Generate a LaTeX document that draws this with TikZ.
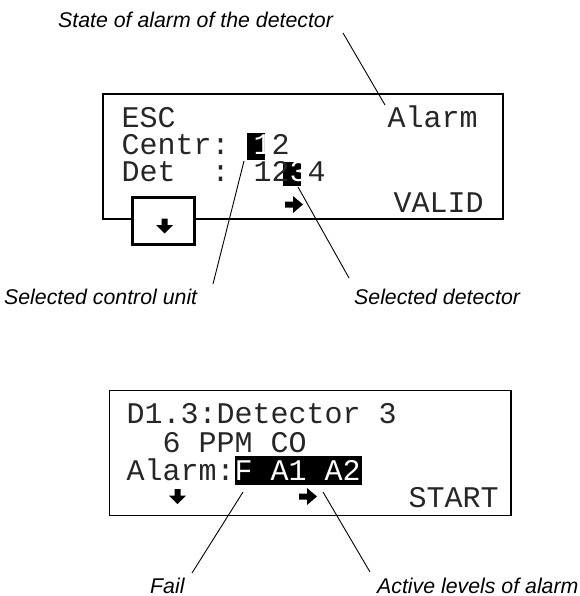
\documentclass[tikz,border=0pt]{standalone}
\usepackage{fontspec}
\setmainfont{Liberation Sans}
\newfontfamily\lcdfont{Liberation Mono}
\tikzset{
  lcdbox/.style={draw=black, line width=1.6pt},
  keybox/.style={draw=black, line width=3.2pt, fill=white},
  lcd/.style={inner sep=0pt, anchor=base west, text=black!85, font=\lcdfont\fontsize{30}{30}\selectfont},
  lbl/.style={inner sep=0pt, anchor=base west, font=\itshape\fontsize{21.3}{25}\selectfont},
  leader/.style={draw=black, line width=0.9pt},
  hl/.style={fill=black},
  rarrow/.pic={\fill[black] (0,-3) -- (8,-3) -- (8,-8.5) -- (18,0) -- (8,8.5) -- (8,3) -- (0,3) -- cycle;},
  darrow/.pic={\fill[black] (-3,0) -- (-3,6.5) -- (-8.5,6.5) -- (0,15) -- (8.5,6.5) -- (3,6.5) -- (3,0) -- cycle;}
}
\begin{document}
\begin{tikzpicture}[x=1pt,y=-1pt]
\useasboundingbox (0,0) rectangle (579,596);
% ---------- top display ----------
\draw[lcdbox] (103,94) rectangle (503,219);
\fill[hl] (247,133) rectangle (265,160);
\fill[hl] (283,162) rectangle (301,186);
\node[lcd] (esc) at (121.5,128) {ESC};
\node[lcd] (alarm) at (387.5,128) {Alarm};
\node[lcd] (centr) at (121.5,155) {Centr: \textcolor{white}{1}2};
\node[lcd] (det) at (121.5,182) {Det\ \ : 12\textcolor{white}{3}4};
\node[lcd] (valid) at (393.5,212) {VALID};
\pic (ra1) at (285,204.5) {rarrow};
\draw[keybox] (132.5,197.5) rectangle (194.5,244.5);
\pic (da1) at (164.5,218.5) {darrow};
% ---------- top labels ----------
\node[lbl] (state) at (58,28) {State of alarm of the detector};
\node[lbl] (selcu) at (4,304) {Selected control unit};
\node[lbl] (seldet) at (354,304) {Selected detector};
\coordinate (s1) at (343,33);
\coordinate (s2) at (385,105);
\coordinate (c1) at (244,161);
\coordinate (c2) at (213,284);
\coordinate (d1) at (298,187);
\coordinate (d2) at (349,278);
\draw[leader] (s1) -- (s2);
\draw[leader] (c1) -- (c2);
\draw[leader] (d1) -- (d2);
% ---------- bottom display ----------
\draw[lcdbox] (109.5,390.5) rectangle (511,515.5);
\fill[hl] (235,456) rectangle (362,485);
\node[lcd] (dline) at (126.5,423) {D1.3:Detector 3};
\node[lcd] (ppm) at (126.5,452) {\ \ 6 PPM CO};
\node[lcd] (alarmline) at (126.5,480) {Alarm:\textcolor{white}{F A1 A2}};
\node[lcd] (start) at (408.5,507) {START};
\pic (da2) at (177.5,489) {darrow};
\pic (ra2) at (299,496.5) {rarrow};
% ---------- bottom labels ----------
\node[lbl] (fail) at (150,593) {Fail};
\node[lbl] (active) at (377,593) {Active levels of alarm};
\coordinate (f1) at (243,492);
\coordinate (f2) at (192,573);
\coordinate (a1) at (323,492);
\coordinate (a2) at (370,572);
\draw[leader] (f1) -- (f2);
\draw[leader] (a1) -- (a2);
\end{tikzpicture}
\end{document}
